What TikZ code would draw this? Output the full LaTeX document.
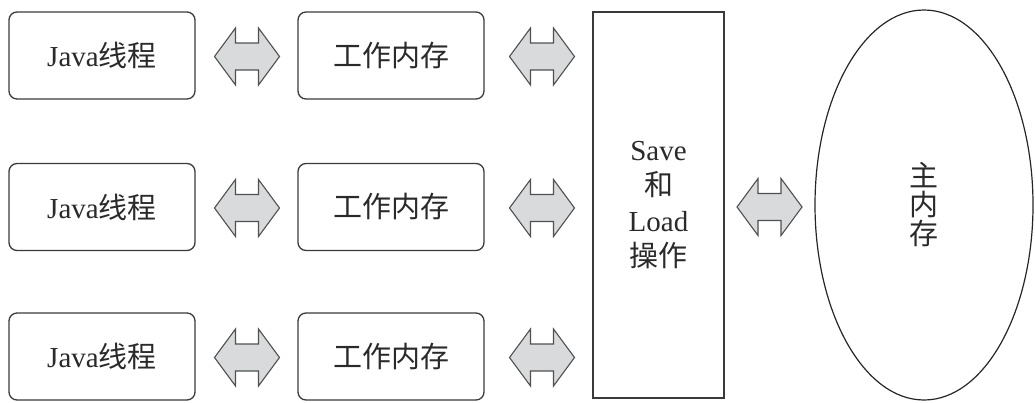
\documentclass[tikz,border=0pt]{standalone}
\usepackage{fontspec}
\setmainfont{Liberation Serif}
\newfontfamily\lat{Liberation Serif}
\newfontfamily\cjk{Noto Sans CJK SC}
\usetikzlibrary{shapes.geometric,calc}
\definecolor{boxline}{HTML}{3A3A3A}
\definecolor{txt}{HTML}{2A2A2A}
\definecolor{arrfill}{HTML}{D9DADB}
\definecolor{arrline}{HTML}{505050}
\tikzset{
  rbox/.style={draw=boxline, line width=1.3pt, rounded corners=8pt, minimum width=186pt, minimum height=87pt, inner sep=0pt, text=txt, font=\lat\fontsize{29}{34}\selectfont},
  sbox/.style={draw=boxline, line width=1.3pt, minimum width=131pt, minimum height=386pt, inner sep=0pt, text=txt, align=center, font=\lat\fontsize{29}{35.5}\selectfont},
  mem/.style={ellipse, draw=black!85, line width=1.2pt, minimum width=218pt, minimum height=390pt, inner sep=0pt, text=txt, align=center, font=\lat\fontsize{29}{29}\selectfont},
  arr/.style={draw=arrline, fill=arrfill, line width=1.1pt, line join=miter}
}
\newcommand\dblarr[1]{%
  \draw[arr] (#1) ++(-32.5,0) -- ++(21,-28.5) -- ++(0,15) -- ++(23,0) -- ++(0,-15)
    -- ++(21,28.5) -- ++(-21,28.5) -- ++(0,-15) -- ++(-23,0) -- ++(0,15) -- cycle;}
\begin{document}
\begin{tikzpicture}[x=1pt,y=-1pt]
\useasboundingbox (0,0) rectangle (1035,402);
\node[rbox] (j1) at (102,55.5) {Java{\cjk 线程}};
\node[rbox] (j2) at (102,207) {Java{\cjk 线程}};
\node[rbox] (j3) at (102,356.5) {Java{\cjk 线程}};
\node[rbox] (w1) at (391,55.5) {\cjk 工作内存};
\node[rbox] (w2) at (391,207) {\cjk 工作内存};
\node[rbox] (w3) at (391,356.5) {\cjk 工作内存};
\node[sbox] (s) at (658.5,205) {Save\\{\cjk 和}\\Load\\{\cjk 操作}};
\node[mem] (m) at (924,205) {\cjk 主\\\cjk 内\\\cjk 存};
\foreach \i in {1,2,3}{
  \coordinate (a\i) at ($(j\i.east)!0.5!(w\i.west)+(0.5,1)$);
  \coordinate (b\i) at ($(w\i.east)!0.5!(s.west |- w\i.west)+(3.5,1)$);
  \dblarr{a\i}
  \dblarr{b\i}
}
\coordinate (c) at ($(s.east)!0.5!(m.west)+(0,2)$);
\dblarr{c}
\end{tikzpicture}
\end{document}
